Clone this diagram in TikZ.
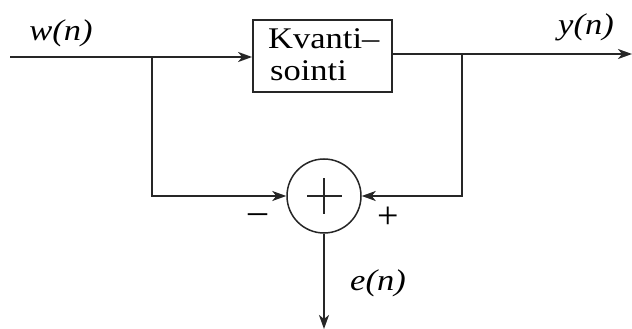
\documentclass[tikz,border=0pt]{standalone}
\usepackage{fontspec}
\setmainfont{Liberation Serif}
\newfontfamily\widefont[FakeStretch=1.15,Ligatures=TeX]{Liberation Serif}
\usetikzlibrary{arrows.meta}
\begin{document}
\begin{tikzpicture}[x=1pt,y=-1pt,
  line/.style={line width=1.9pt, draw=black!85},
  arr/.style={line, -{Stealth[length=14pt,width=10pt,inset=4pt]}},
  lbl/.style={font=\widefont\fontsize{30}{32}\selectfont\itshape, inner sep=0pt},
  blockbox/.style={draw=black!85, line width=1.8pt, minimum width=139pt, minimum height=72pt, inner sep=0pt},
  blocktext/.style={font=\widefont\fontsize{30}{32}\selectfont, inner sep=0pt, anchor=west},
  sumc/.style={circle, draw=black!85, line width=1.5pt, minimum size=74pt, inner sep=0pt},
  sign/.style={font=\fontsize{38}{40}\selectfont, inner sep=0pt}]
\useasboundingbox (0,0) rectangle (632,329);
\fill[white] (0,0) rectangle (632,329);
% nodes
\node[blockbox] (q) at (322.5,56) {};
\node[blocktext] (t1) at (268,39) {Kvanti–};
\node[blocktext] (t2) at (270,71) {sointi};
\node[sumc] (s) at (324,196) {};
\draw[line width=1.5pt, draw=black!85] (307,196) -- (342,196) (324,178) -- (324,214);
\node[lbl] (w) at (61,33) {w(n)};
\node[lbl] (y) at (586,27) {y(n)};
\node[lbl] (e) at (378,283) {e(n)};
\node[sign] (m) at (258,219) {–};
\node[sign] (p) at (388,218) {+};
% coordinates
\coordinate (in) at (10,57);
\coordinate (b1) at (152,57);
\coordinate (b2) at (462,54);
\coordinate (out) at (632,54);
\coordinate (down) at (324,329);
% connectors
\draw[arr] (in) -- (q.west |- in);
\draw[arr] (q.east |- out) -- (out);
\draw[arr] (b1) |- (s.west);
\draw[arr] (b2) |- (s.east);
\draw[arr] (s.south) -- (down);
\end{tikzpicture}
\end{document}
